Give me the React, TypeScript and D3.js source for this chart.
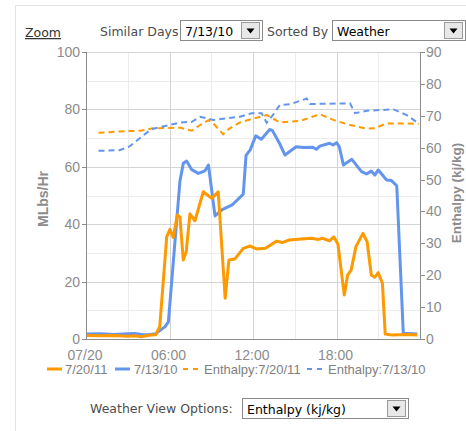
import * as d3 from 'd3';

// Steam load (MLbs/Hr) by hour of day
const load0720: [number, number][] = [
  [0, 1.2], [1, 1.1], [2, 1.2], [3, 1.0], [3.5, 1.1], [4, 0.8], [4.5, 1.3], [5, 1.5],
  [5.3, 4.3], [5.8, 35.6], [6.03, 38.2], [6.27, 35.4], [6.56, 43.2], [6.75, 42.5],
  [6.99, 27.5], [7.2, 30.4], [7.47, 43.6], [7.83, 41.2], [8.43, 51.3], [9.03, 49],
  [9.5, 51.3], [10.0, 14.2], [10.27, 27.5], [10.7, 27.9], [11.3, 31.6], [11.8, 32.4],
  [12.25, 31.4], [12.9, 31.6], [13.7, 34.1], [14.1, 33.6], [14.6, 34.5], [16.2, 35.1],
  [16.7, 34.7], [17.0, 35.1], [17.5, 34.2], [17.8, 35.6], [18.1, 33.1], [18.56, 15.3],
  [18.8, 22.3], [19.05, 24], [19.4, 32.2], [19.9, 36.8], [20.2, 33.9], [20.5, 22.3],
  [20.75, 21.5], [21.0, 23.1], [21.3, 19.4], [21.5, 1.7], [22, 1.4], [23, 1.6], [23.8, 1.4],
];

const load0713: [number, number][] = [
  [0, 1.7], [1, 1.8], [2, 1.6], [3, 1.8], [3.5, 1.9], [4, 1.6], [4.5, 1.5], [5, 1.8],
  [5.68, 4.3], [5.92, 6], [6.75, 55], [6.99, 61.2], [7.23, 62], [7.6, 59], [8.07, 57.7],
  [8.55, 58.6], [8.8, 60.6], [9.27, 42.9], [9.75, 45], [10.5, 46.7], [11.3, 50.5],
  [11.5, 64], [11.8, 65.9], [12.2, 70.8], [12.6, 69.6], [13.2, 73], [13.4, 72.6],
  [13.9, 68.2], [14.3, 64.1], [15.1, 67], [15.6, 66.7], [16.3, 66.8], [16.55, 66.1],
  [16.8, 67.2], [17.5, 68.2], [17.75, 67.6], [18.0, 68.4], [18.2, 67], [18.5, 60.6],
  [19.1, 62.6], [19.8, 58.3], [20.15, 57.5], [20.5, 58.5], [20.75, 57.1], [21.0, 58.9],
  [21.6, 55.4], [21.95, 55.2], [22.33, 53.4], [22.8, 2], [23.8, 1.7],
];

// Enthalpy (kj/kg) on the right axis
const enthalpy0720: [number, number][] = [
  [0.9, 64.7], [1.5, 64.8], [2.4, 65.1], [3, 65.2], [3.9, 65.3], [4.7, 66], [6.0, 66.2],
  [6.75, 66.3], [7.6, 65.3], [8.2, 67.1], [8.8, 68.6], [9.15, 67.6], [9.86, 64.2],
  [10.3, 66], [11.06, 67.9], [12.0, 69.1], [13.0, 70.2], [13.93, 67.9], [15.4, 68.4],
  [16.8, 70.5], [17.77, 68.7], [18.97, 67.1], [20.16, 66], [20.76, 66.1], [21.6, 67.6],
  [22.8, 67.6], [23.9, 67.5],
];

const enthalpy0713: [number, number][] = [
  [0.9, 59], [2.4, 59.2], [3.1, 60.3], [3.99, 63.4], [4.7, 65.8], [6.0, 67.1],
  [6.75, 67.9], [7.6, 68.1], [8.2, 69.7], [9.15, 68.7], [10.1, 69.2], [11.06, 69.7],
  [11.9, 70.8], [12.63, 70.8], [12.98, 67.8], [13.34, 69.7], [13.93, 73.4], [14.65, 73.6],
  [15.86, 75.4], [16.1, 73.7], [18.97, 73.9], [19.33, 70.8], [20.2, 71.6], [22.1, 72],
  [23.05, 70.2], [23.9, 67.6],
];

const hourTicks = [0, 6, 12, 18];
const hourLabels = ['07/20', '06:00', '12:00', '18:00'];
const leftTicks = [0, 20, 40, 60, 80, 100];
const rightTicks = [0, 10, 20, 30, 40, 50, 60, 70, 80, 90];

const ORANGE = '#ff9900';
const BLUE = '#6495ed';
const chartFont = '"Liberation Sans", Arial, sans-serif';
const uiFont = '"DejaVu Sans", Tahoma, sans-serif';

function Select({ x, y, w, label }: { x: number; y: number; w: number; label: string }) {
  const bx = x + w - 21;
  return (
    <g>
      <rect x={x + 0.5} y={y + 0.5} width={w} height={20} fill="#fff" stroke="#8a8a8a" />
      <text x={x + 5} y={y + 15.5} fontSize={12.5} fill="#000" fontFamily={uiFont}>{label}</text>
      <rect x={bx + 0.5} y={y + 2.5} width={18} height={16} fill="#e8e8e8" stroke="#9a9a9a" />
      <path d={`M${bx + 5.5},${y + 8.5}L${bx + 13.5},${y + 8.5}L${bx + 9.5},${y + 13.5}Z`} fill="#000" />
    </g>
  );
}

export default function App() {
  const x = d3.scaleLinear().domain([0, 24]).range([86, 420]);
  const yL = d3.scaleLinear().domain([0, 100]).range([339, 52]);
  const yR = d3.scaleLinear().domain([0, 90]).range([339, 52]);

  const lineL = d3.line<[number, number]>().x(d => x(d[0])).y(d => yL(d[1]));
  const lineR = d3.line<[number, number]>().x(d => x(d[0])).y(d => yR(d[1]));

  const [x0, x1] = x.range();
  const [yb, yt] = yL.range();

  return (
    <svg width={466} height={431} style={{ position: 'absolute', left: 0, top: 0, background: '#fff' }}>
      {/* panel border */}
      <line x1={15.5} x2={15.5} y1={5} y2={431} stroke="#e3e3e3" />
      <line x1={15} x2={466} y1={5.5} y2={5.5} stroke="#e3e3e3" />

      {/* top controls */}
      <text x={25} y={37} fontSize={12.5} fill="#333" fontFamily={uiFont} textDecoration="underline">Zoom</text>
      <text x={100} y={36} fontSize={12.5} fill="#4d4d4d" fontFamily={uiFont}>Similar Days</text>
      <Select x={180} y={20} w={82} label="7/13/10" />
      <text x={267} y={36} fontSize={12.5} fill="#4d4d4d" fontFamily={uiFont}>Sorted By</text>
      <Select x={332} y={20} w={133} label="Weather" />

      {/* grid */}
      {d3.range(10, 100, 20).map(v => (
        <line key={'hm' + v} x1={x0} x2={x1} y1={Math.round(yL(v)) + 0.5} y2={Math.round(yL(v)) + 0.5} stroke="#ececec" />
      ))}
      {d3.range(3, 24, 6).map(h => (
        <line key={'vm' + h} x1={Math.round(x(h)) + 0.5} x2={Math.round(x(h)) + 0.5} y1={yt} y2={yb} stroke="#ececec" />
      ))}
      {leftTicks.slice(1).map(v => (
        <line key={'hM' + v} x1={x0} x2={x1} y1={Math.round(yL(v)) + 0.5} y2={Math.round(yL(v)) + 0.5} stroke="#d4d4d4" />
      ))}
      {hourTicks.slice(1).map(h => (
        <line key={'vM' + h} x1={Math.round(x(h)) + 0.5} x2={Math.round(x(h)) + 0.5} y1={yt} y2={yb} stroke="#d4d4d4" />
      ))}

      {/* series */}
      <path d={lineR(enthalpy0720) || ''} fill="none" stroke={ORANGE} strokeWidth={2} strokeDasharray="6,4" />
      <path d={lineR(enthalpy0713) || ''} fill="none" stroke={BLUE} strokeWidth={2} strokeDasharray="6,4" />
      <path d={lineL(load0713) || ''} fill="none" stroke={BLUE} strokeWidth={3} strokeLinejoin="round" />
      <path d={lineL(load0720) || ''} fill="none" stroke={ORANGE} strokeWidth={3} strokeLinejoin="round" />

      {/* axes */}
      <line x1={x0 + 0.5} x2={x0 + 0.5} y1={yt} y2={yb} stroke="#8c8c8c" />
      <line x1={x1 + 0.5} x2={x1 + 0.5} y1={yt} y2={yb} stroke="#8c8c8c" />
      <line x1={x0} x2={x1 + 1} y1={yb + 0.5} y2={yb + 0.5} stroke="#8c8c8c" />

      {leftTicks.map(v => (
        <g key={'lt' + v} transform={`translate(0,${Math.round(yL(v)) + 0.5})`}>
          <line x1={82} x2={86} stroke="#8c8c8c" />
          <text x={80} dy="0.35em" textAnchor="end" fontSize={14} fill="#8c8c8c" fontFamily={chartFont}>{v}</text>
        </g>
      ))}
      {rightTicks.map(v => (
        <g key={'rt' + v} transform={`translate(0,${Math.round(yR(v)) + 0.5})`}>
          <line x1={x1 + 1} x2={x1 + 5} stroke="#8c8c8c" />
          <text x={x1 + 6} dy="0.35em" fontSize={14} fill="#8c8c8c" fontFamily={chartFont}>{v}</text>
        </g>
      ))}
      {hourTicks.map((h, i) => (
        <text key={'xt' + h} x={x(h) - 1} y={360} textAnchor="middle" fontSize={14} fill="#8c8c8c" fontFamily={chartFont}>
          {hourLabels[i]}
        </text>
      ))}

      {/* axis titles */}
      <text transform="translate(48,199) rotate(-90)" textAnchor="middle" fontSize={14} fontWeight="bold" fill="#8c8c8c" fontFamily={chartFont}>MLbs/Hr</text>
      <text transform="translate(461,193) rotate(-90)" textAnchor="middle" fontSize={13.5} fontWeight="bold" fill="#8c8c8c" fontFamily={chartFont}>Enthalpy (kj/kg)</text>

      {/* legend */}
      <g fontSize={13} fill="#808080" fontFamily={chartFont}>
        <line x1={47} x2={62} y1={369} y2={369} stroke={ORANGE} strokeWidth={3} />
        <text x={65} y={374}>7/20/11</text>
        <line x1={115} x2={130} y1={369} y2={369} stroke={BLUE} strokeWidth={3} />
        <text x={134} y={374}>7/13/10</text>
        <line x1={183} x2={198} y1={369} y2={369} stroke={ORANGE} strokeWidth={2} strokeDasharray="5,5" />
        <text x={204} y={374}>Enthalpy:7/20/11</text>
        <line x1={307} x2={322} y1={369} y2={369} stroke={BLUE} strokeWidth={2} strokeDasharray="5,5" />
        <text x={328} y={374}>Enthalpy:7/13/10</text>
      </g>

      {/* bottom controls */}
      <text x={90} y={413} fontSize={12.5} fill="#4d4d4d" fontFamily={uiFont}>Weather View Options:</text>
      <Select x={242} y={398} w={166} label="Enthalpy (kj/kg)" />
    </svg>
  );
}
